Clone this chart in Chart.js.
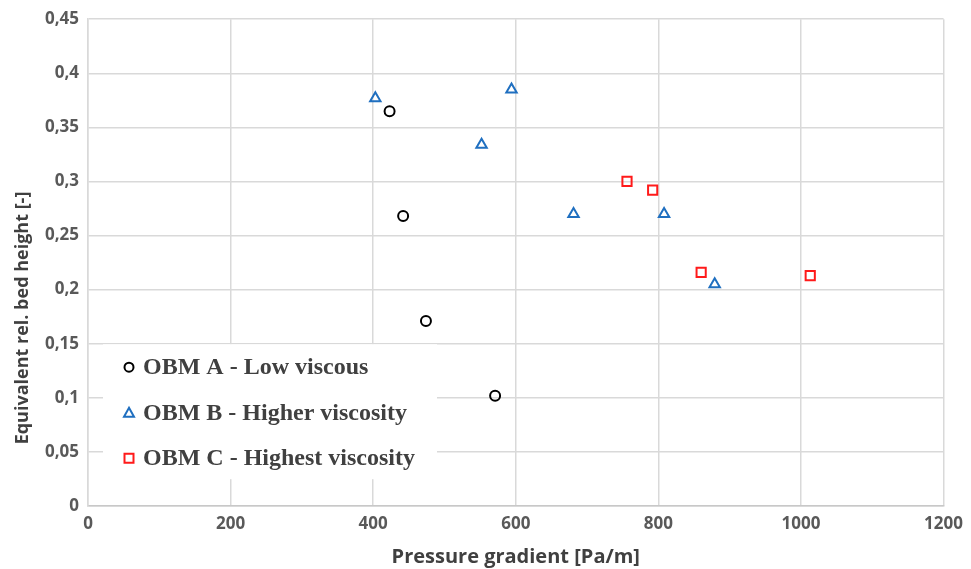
<!DOCTYPE html>
<html>
<head>
<meta charset="utf-8">
<script src="https://cdn.jsdelivr.net/npm/chart.js@4/dist/chart.umd.min.js"></script>
<style>
  html, body { margin: 0; padding: 0; background: #fff; }
  #wrap { width: 971px; height: 569px; }
</style>
</head>
<body>
<div id="wrap"><canvas id="chart"></canvas></div>
<script>
// measured points, pressure gradient [Pa/m] vs equivalent rel. bed height [-]
const obmA_x = [423, 442, 474, 571];
const obmA_y = [0.365, 0.268, 0.171, 0.102];
const obmB_x = [403, 552, 594, 681, 808, 879];
const obmB_y = [0.377, 0.334, 0.385, 0.270, 0.270, 0.205];
const obmC_x = [756, 792, 860, 1013];
const obmC_y = [0.300, 0.292, 0.216, 0.213];

const seriesNames = ['OBM A - Low viscous', 'OBM B - Higher viscosity', 'OBM C - Highest viscosity'];
const xTicks = [0, 200, 400, 600, 800, 1000, 1200];
const yTicks = [0, 0.05, 0.1, 0.15, 0.2, 0.25, 0.3, 0.35, 0.4, 0.45];
const xTitle = 'Pressure gradient [Pa/m]';
const yTitle = 'Equivalent rel. bed height [-]';

const pts = (xs, ys) => xs.map((x, i) => ({ x: x, y: ys[i] }));
const comma = v => Number(v.toFixed(2)).toString().replace('.', ',');

// legend box sitting inside the plot, bottom left, plus the vertical axis title
const insideLegend = {
    id: 'insideLegend',
    afterDatasetsDraw(chart) {
        const ctx = chart.ctx;
        const area = chart.chartArea;
        const left = area.left + 15, top = area.top + 325;
        ctx.save();
        ctx.fillStyle = '#fff';
        ctx.fillRect(left, top, 334, 135);
        ctx.font = 'bold 24px "Liberation Serif", "Times New Roman", serif';
        ctx.textBaseline = 'middle';
        chart.data.datasets.forEach((ds, i) => {
            const y = top + 23 + i * 45.5;
            const mx = left + 26;
            ctx.lineWidth = 2;
            ctx.strokeStyle = ds.borderColor;
            ctx.beginPath();
            if (ds.pointStyle === 'circle') {
                ctx.arc(mx, y, 4.5, 0, Math.PI * 2);
            } else if (ds.pointStyle === 'triangle') {
                ctx.moveTo(mx, y - 5);
                ctx.lineTo(mx + 5, y + 4);
                ctx.lineTo(mx - 5, y + 4);
                ctx.closePath();
            } else {
                ctx.rect(mx - 4.5, y - 4.5, 9, 9);
            }
            ctx.stroke();
            ctx.fillStyle = '#404040';
            ctx.fillText(ds.label, mx + 14, y + 1);
        });

        // y title, set a bit lower than the plot centre
        ctx.translate(23, 318);
        ctx.rotate(-Math.PI / 2);
        ctx.font = 'bold 18px "Open Sans", sans-serif';
        ctx.fillStyle = '#404040';
        ctx.textAlign = 'center';
        ctx.fillText(yTitle, 0, 0);
        ctx.restore();
    }
};

const tickFont = { family: '"Open Sans", sans-serif', size: 17, weight: 'bold' };

new Chart(document.getElementById('chart'), {
    type: 'scatter',
    data: {
        datasets: [
            {
                label: seriesNames[0],
                data: pts(obmA_x, obmA_y),
                pointStyle: 'circle',
                pointRadius: 5,
                borderColor: '#000000',
                backgroundColor: 'rgba(0,0,0,0)',
                borderWidth: 2
            },
            {
                label: seriesNames[1],
                data: pts(obmB_x, obmB_y),
                pointStyle: 'triangle',
                pointRadius: 6,
                borderColor: '#1f6fc0',
                backgroundColor: 'rgba(0,0,0,0)',
                borderWidth: 2
            },
            {
                label: seriesNames[2],
                data: pts(obmC_x, obmC_y),
                pointStyle: 'rect',
                pointRadius: 6.5,
                borderColor: '#ff1a1a',
                backgroundColor: 'rgba(0,0,0,0)',
                borderWidth: 2
            }
        ]
    },
    options: {
        responsive: true,
        maintainAspectRatio: false,
        animation: false,
        layout: { padding: { top: 18, right: 22, left: 0, bottom: 0 } },
        plugins: {
            legend: { display: false },
            tooltip: { enabled: false }
        },
        scales: {
            x: {
                type: 'linear',
                min: 0,
                max: 1200,
                afterBuildTicks: axis => { axis.ticks = xTicks.map(v => ({ value: v })); },
                afterFit: axis => { axis.height = 63; },
                ticks: { color: '#595959', font: tickFont, padding: 8, callback: v => String(v) },
                grid: { color: '#d9d9d9', lineWidth: 1.5, drawTicks: false },
                border: { color: '#c8c8c8', width: 1.5 },
                title: {
                    display: true,
                    text: xTitle,
                    color: '#404040',
                    font: { family: '"Open Sans", sans-serif', size: 20, weight: 'bold' },
                    padding: { top: 2, bottom: 0 }
                }
            },
            y: {
                type: 'linear',
                min: 0,
                max: 0.45,
                afterBuildTicks: axis => { axis.ticks = yTicks.map(v => ({ value: v })); },
                afterFit: axis => { axis.width = 88; },
                ticks: { color: '#595959', font: tickFont, padding: 9, callback: v => comma(v) },
                grid: { color: '#d9d9d9', lineWidth: 1.5, drawTicks: false },
                border: { color: '#d9d9d9', width: 1.5 }
            }
        }
    },
    plugins: [insideLegend]
});
</script>
</body>
</html>
